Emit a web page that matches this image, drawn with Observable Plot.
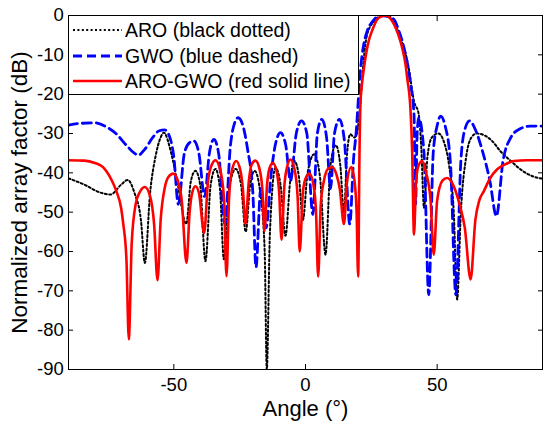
<!DOCTYPE html>
<html><head><meta charset="utf-8">
<script src="https://cdn.jsdelivr.net/npm/d3@7"></script>
<script src="https://cdn.jsdelivr.net/npm/@observablehq/plot@0.6"></script>
<style>
body{margin:0;background:#fff;}
#wrap{position:relative;width:550px;height:428px;font-family:"Liberation Sans",Arial,sans-serif;}
#legend{position:absolute;left:0;top:0;}
</style></head><body><div id="wrap"></div>
<script>
// ARO (black dotted): [angle °, dB]
const aro = [[-90,-41.4],[-84,-43],[-78,-45],[-74,-45.5],[-70,-43],[-67.5,-41.8],[-65,-45],[-62.5,-52],[-61,-62.9],[-59,-45],[-57,-36],[-55,-31],[-53.8,-29.8],[-51,-35],[-48.5,-43],[-45.3,-53],[-43.5,-42],[-41.8,-39.5],[-40,-43],[-38,-62.5],[-36,-43],[-34.2,-39],[-32.5,-44],[-31,-62],[-29,-44],[-26.5,-39],[-24.5,-43],[-22.7,-55],[-21,-43],[-19.3,-39.5],[-17,-46],[-15.5,-60],[-14.7,-90],[-13.5,-55],[-11.4,-38.7],[-9.5,-43],[-7.6,-56],[-5.8,-42],[-4.2,-37],[-2.5,-41],[-1,-52],[0.8,-40],[3.3,-35.3],[5.5,-41],[7.6,-60.8],[9.5,-38],[11.5,-33],[13.2,-38],[14.6,-50],[15.8,-35],[17,-30.2],[18.5,-31],[19.5,-30],[20.9,-21.8],[22,-12],[23.4,-4.8],[26,-1.5],[28.5,-0.2],[31,0],[33.5,-1.5],[36.1,-5.6],[39.2,-13.3],[41.2,-21.8],[43,-25.1],[44,-34],[45,-48.9],[46.3,-36],[48,-31],[50.5,-30],[52.5,-32],[54.5,-38],[56.3,-50],[57.6,-72.2],[59,-50],[61,-36],[63,-31],[65,-30],[68,-30.5],[71,-32],[74,-34.5],[78,-37],[82,-39.3],[86,-40.8],[90,-41.5]];
// GWO (blue dashed)
const gwo = [[-90,-27.9],[-85,-27.4],[-80,-27.3],[-76,-28.2],[-72,-30],[-68,-33],[-65,-35],[-63.5,-35.5],[-61,-34],[-58,-31],[-55.5,-29.3],[-53.5,-29.1],[-51.5,-31],[-50,-36],[-48.3,-48],[-46,-35],[-44,-32.3],[-42.4,-31.9],[-40.5,-35],[-38.3,-46],[-36.5,-35],[-34.8,-31.5],[-33,-35],[-30.6,-53],[-28.5,-33],[-27,-27.5],[-25.6,-26],[-24,-27.5],[-22,-34],[-20,-45],[-18.8,-64],[-17,-44],[-15,-54],[-13,-40],[-11.5,-33],[-9.5,-29.8],[-7.5,-33],[-5.7,-42],[-3.5,-30],[-1.5,-26.8],[0.5,-30],[2.8,-50.6],[4.5,-30],[6.2,-26.4],[8,-31],[9.5,-44],[11,-30],[12.9,-26.4],[14.8,-32],[16.8,-53],[18.3,-36],[19.2,-30],[20,-22],[20.6,-15.8],[21.5,-10],[23.4,-4],[25.5,-1.5],[28.5,0],[31,-0.2],[33.6,-1],[35.5,-4],[37.4,-8.2],[39.9,-17.5],[41.2,-25.1],[41.8,-48],[42.4,-30],[43,-26],[45,-35],[46.8,-71],[48.5,-35],[50,-28],[51.3,-25.6],[53,-28],[55,-37],[57.1,-71],[59,-37],[60.5,-29],[62.3,-26.8],[64.5,-29],[67,-34],[70,-42],[72.5,-51],[75,-37],[78,-31],[81,-29],[85.5,-28.1],[90,-28.1]];
// ARO-GWO (red solid line)
const hybrid = [[-90,-36.8],[-84,-36.9],[-80,-37.5],[-77,-38.5],[-75.6,-39.6],[-73.5,-42],[-71.8,-44.7],[-70,-49],[-69.2,-53],[-68,-62],[-67.1,-82.3],[-66,-58],[-64.5,-48],[-63,-45],[-61,-43.6],[-59,-46],[-57.5,-53],[-56.2,-67.3],[-55,-52],[-53.5,-44],[-52,-41],[-50.2,-40.2],[-48.5,-42],[-47,-47],[-45.2,-62.9],[-44,-50],[-43,-45],[-41.8,-43.4],[-40.5,-45],[-38.5,-55.3],[-37,-42],[-35.5,-37.8],[-34.2,-36.8],[-32.5,-39],[-31,-46],[-30,-66.3],[-29,-46],[-27.8,-39],[-26.3,-37],[-24.7,-39.5],[-23.8,-44],[-22.8,-53],[-21.5,-42],[-20.5,-38],[-19,-36.9],[-17.3,-39.5],[-16.3,-45],[-15.6,-54.8],[-14.6,-43],[-13.5,-38.5],[-12.4,-37.5],[-11,-39.5],[-10,-45],[-9.1,-57],[-8,-43],[-7,-38.5],[-5.7,-36.6],[-4.2,-39],[-3,-46],[-2.2,-60],[-1,-45],[0,-41.5],[1.5,-40.2],[3,-43],[4,-50],[4.8,-66.4],[5.8,-48],[7,-42],[8.5,-39],[10.1,-38.5],[11.8,-40.5],[13,-44],[14.6,-53],[15.8,-42],[17.4,-38.5],[18.6,-42],[19.4,-50],[20,-66.4],[20.5,-35],[20.9,-21.8],[21.5,-17],[22.2,-13.3],[24,-6.5],[25.5,-3.5],[27.2,-1],[29,-0.2],[30.4,0],[32,-0.6],[33.6,-2.2],[35.2,-4.8],[36.7,-8.2],[38,-12.5],[38.6,-15.8],[39.9,-24.3],[40.5,-34.5],[41.2,-55.7],[42,-42],[43,-38],[44.3,-37],[45.8,-40],[47.5,-47],[48.7,-60.8],[50,-47],[52,-42],[53.8,-41.3],[56,-43],[58.5,-48],[60.5,-54],[62.7,-67.1],[64.5,-52],[66,-47],[67.7,-44.7],[70,-41.5],[72.8,-39.1],[76,-37.8],[79.1,-37],[84,-36.8],[90,-36.8]];

const xTicks = [-50, 0, 50];
const yTicks = [0, -10, -20, -30, -40, -50, -60, -70, -80, -90];
const xLabel = "Angle (°)";
const yLabel = "Normalized array factor (dB)";
const legendNames = ["ARO (black dotted)", "GWO (blue dashed)", "ARO-GWO (red solid line)"];

const styles = [
  {stroke: "#000000", strokeWidth: 2, strokeDasharray: "2,2.4"},
  {stroke: "#0000ff", strokeWidth: 2.8, strokeDasharray: "9,5"},
  {stroke: "#ff0000", strokeWidth: 2.6, strokeDasharray: null}
];
const seriesData = [aro, gwo, hybrid];

const lineMarks = seriesData.map((data, i) => Plot.line(data, {
  x: d => d[0], y: d => d[1], curve: "monotone-x", clip: true,
  stroke: styles[i].stroke, strokeWidth: styles[i].strokeWidth,
  strokeDasharray: styles[i].strokeDasharray
}));

const plot = Plot.plot({
  width: 550, height: 428,
  marginLeft: 68, marginRight: 8, marginTop: 15, marginBottom: 59,
  style: {fontFamily: "'Liberation Sans', Arial, sans-serif", fontSize: "18px", background: "#fff", color: "#000", overflow: "visible"},
  x: {domain: [-90, 90]},
  y: {domain: [-90, 0]},
  marks: [
    ...lineMarks,
    Plot.frame({stroke: "#000", strokeWidth: 1}),
    Plot.axisX({ticks: xTicks, tickSize: -5, tickPadding: 13, tickFormat: d => String(d), label: null, fontSize: 18.5}),
    Plot.axisX({anchor: "top", ticks: xTicks, tickSize: -5, tickFormat: () => "", label: null}),
    Plot.axisY({ticks: yTicks, tickSize: -5, tickPadding: 9.7, tickFormat: d => String(d), label: null, fontSize: 18.5}),
    Plot.axisY({anchor: "right", ticks: yTicks, tickSize: -5, tickFormat: () => "", label: null}),
    Plot.text([xLabel], {frameAnchor: "bottom", dy: 39.5, fontSize: 22, textAnchor: "middle", lineAnchor: "middle", text: d => d}),
    Plot.text([yLabel], {frameAnchor: "left", dx: -49, rotate: -90, fontSize: 22.5, textAnchor: "middle", lineAnchor: "middle", text: d => d})
  ]
});

const wrap = document.getElementById("wrap");
wrap.appendChild(plot);

// Legend box overlaid at top-left of the axes (as in the original figure)
const lg = d3.select(wrap).append("svg").attr("id", "legend")
  .attr("width", 370).attr("height", 100).style("pointer-events", "none");
lg.append("rect").attr("x", 68.5).attr("y", 15.5).attr("width", 290).attr("height", 79)
  .attr("fill", "#fff").attr("stroke", "#000").attr("stroke-width", 1);
const rowY = [30, 56, 81];
legendNames.forEach((name, i) => {
  lg.append("line").attr("x1", 73).attr("x2", 122).attr("y1", rowY[i]).attr("y2", rowY[i])
    .attr("stroke", styles[i].stroke).attr("stroke-width", styles[i].strokeWidth)
    .attr("stroke-dasharray", styles[i].strokeDasharray);
  lg.append("text").attr("x", 125).attr("y", rowY[i]).attr("dy", "0.35em")
    .attr("font-family", "'Liberation Sans', Arial, sans-serif").attr("font-size", 19.5)
    .attr("fill", "#000").text(name);
});
</script></body></html>
